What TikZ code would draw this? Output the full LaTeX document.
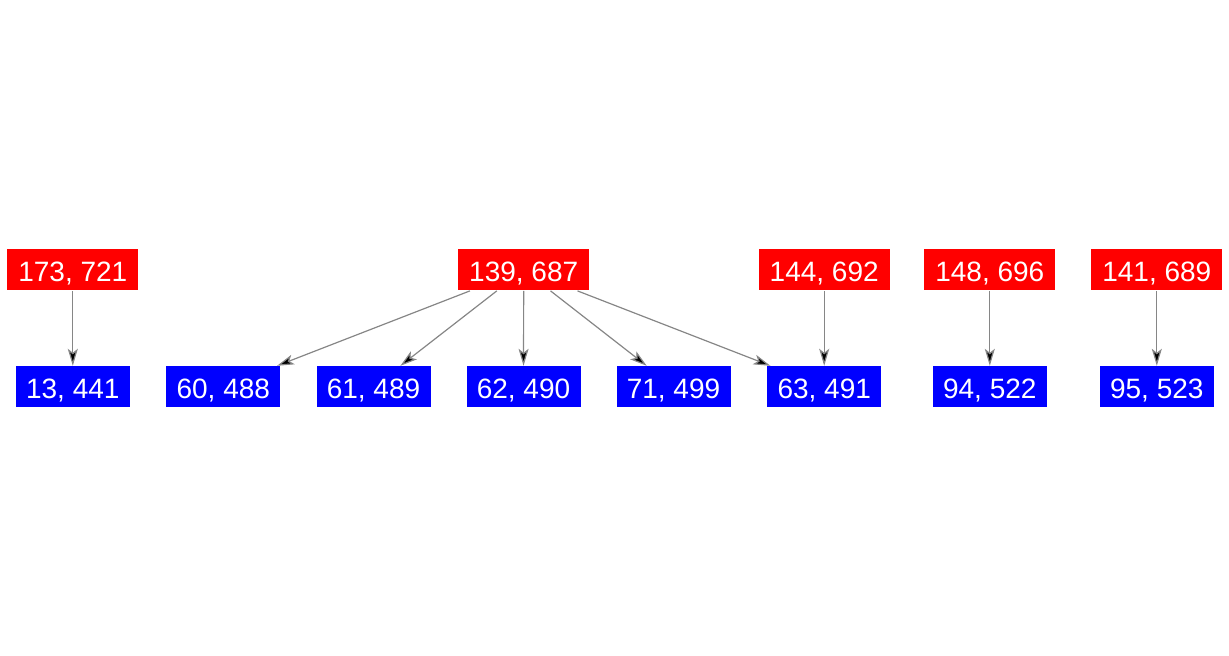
\documentclass[tikz,border=0pt]{standalone}
\usepackage{fontspec}
\setmainfont{Liberation Sans}
\usetikzlibrary{arrows.meta}
\tikzset{%
  src/.style = {rectangle, fill=red, text=white, inner sep=0pt,
                minimum width=65.5pt, minimum height=20.5pt,
                text height=12pt, text depth=0pt,
                font=\fontsize{14pt}{16pt}\selectfont},
  dst/.style = {src, fill=blue, minimum width=57pt},
  link/.style = {->, draw=gray!95, line width=0.6pt}
  }

\begin{document}
\begin{tikzpicture}[x=0.5pt, y=-0.5pt, >={Stealth[length=8.5pt,width=5pt,inset=2pt]}]
  \useasboundingbox (0,0) rectangle (1229,656);

  % top row
  \node (r173) [src] at (72.8,270) {173, 721};
  \node (r139) [src] at (523.7,270) {139, 687};
  \node (r144) [src] at (824.2,270) {144, 692};
  \node (r148) [src] at (989.8,270) {148, 696};
  \node (r141) [src] at (1156.8,270) {141, 689};

  % bottom row
  \node (b13) [dst] at (72.8,386.7) {13, 441};
  \node (b60) [dst] at (223.3,386.7) {60, 488};
  \node (b61) [dst] at (373.5,386.7) {61, 489};
  \node (b62) [dst] at (523.5,386.7) {62, 490};
  \node (b71) [dst] at (673.5,386.7) {71, 499};
  \node (b63) [dst] at (824.2,386.7) {63, 491};
  \node (b94) [dst] at (989.8,386.7) {94, 522};
  \node (b95) [dst] at (1156.8,386.7) {95, 523};

  \path[link]
    (r173) edge (b13)
    (r139) edge (b60)
    (r139) edge (b61)
    (r139) edge (b62)
    (r139) edge (b71)
    (r139) edge (b63)
    (r144) edge (b63)
    (r148) edge (b94)
    (r141) edge (b95);
\end{tikzpicture}
\end{document}
